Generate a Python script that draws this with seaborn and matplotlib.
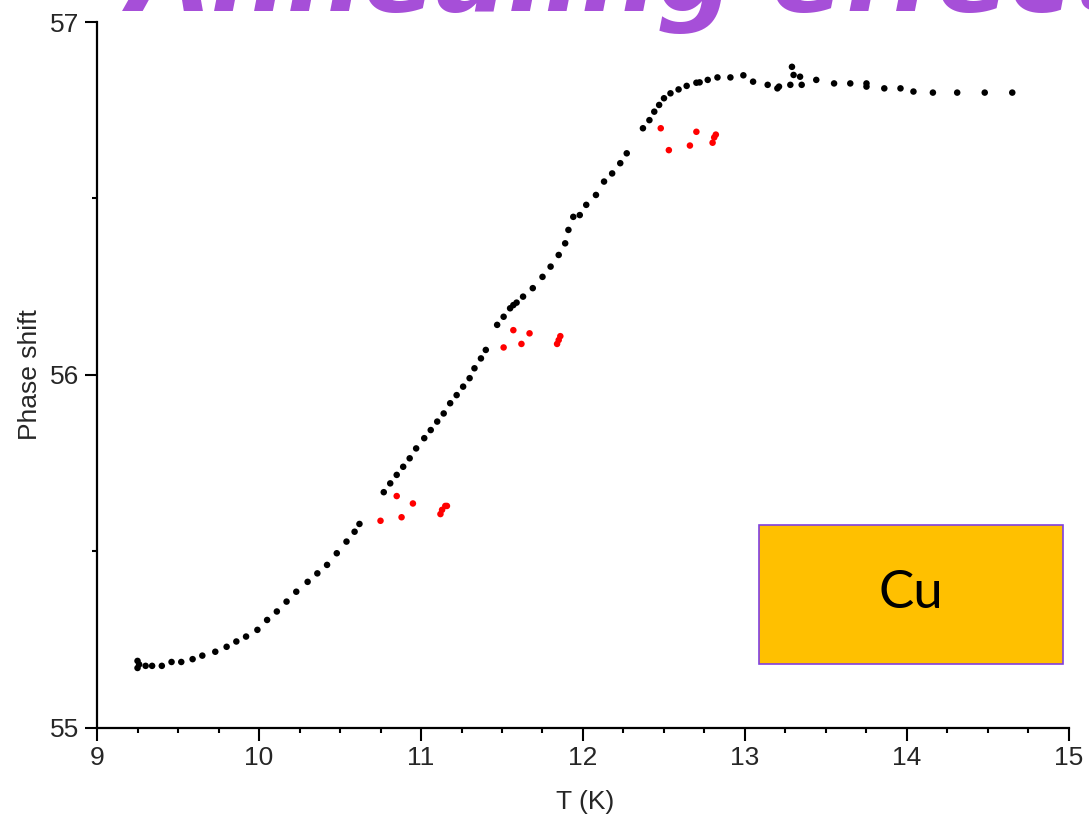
import matplotlib
matplotlib.use('Agg')
import matplotlib.pyplot as plt
import matplotlib.patches as mpatches
from matplotlib.ticker import MultipleLocator
import seaborn as sns
import pandas as pd

# Data (T in K, phase shift)
t_black = [9.25, 9.25, 9.26, 9.30, 9.34, 9.40, 9.46, 9.52, 9.59, 9.65, 9.73, 9.80, 9.86,
           9.92, 9.99, 10.05, 10.11, 10.17, 10.23, 10.30, 10.36, 10.42, 10.48, 10.54, 10.59,
           10.62,
           10.77, 10.81, 10.85, 10.89, 10.93, 10.97, 11.02, 11.06, 11.10, 11.14, 11.18, 11.22,
           11.26, 11.30, 11.33, 11.37, 11.40,
           11.47, 11.51, 11.55, 11.57, 11.59, 11.63, 11.69, 11.75, 11.80, 11.85, 11.89, 11.91,
           11.94, 11.98, 12.02, 12.08, 12.13, 12.18, 12.23, 12.27,
           12.37, 12.41, 12.44, 12.47, 12.50, 12.54, 12.59, 12.64, 12.70, 12.72, 12.77, 12.83,
           12.91, 12.99, 13.05, 13.14, 13.20, 13.21, 13.28, 13.29, 13.30, 13.34, 13.35, 13.44,
           13.55, 13.65, 13.75, 13.75, 13.86, 13.96, 14.04, 14.16, 14.31, 14.48, 14.65]
phase_black = [55.19, 55.17, 55.18, 55.176, 55.176, 55.176, 55.187, 55.187, 55.195, 55.205,
               55.216, 55.23, 55.245, 55.259, 55.278, 55.306, 55.33, 55.358, 55.386, 55.414,
               55.438, 55.462, 55.495, 55.528, 55.556, 55.578,
               55.668, 55.693, 55.717, 55.740, 55.764, 55.792, 55.821, 55.844, 55.868, 55.891,
               55.920, 55.943, 55.967, 55.991, 56.019, 56.047, 56.071,
               56.142, 56.165, 56.189, 56.198, 56.205, 56.222, 56.246, 56.278, 56.307, 56.340,
               56.373, 56.411, 56.448, 56.453, 56.482, 56.510, 56.548, 56.571, 56.600, 56.628,
               56.699, 56.722, 56.746, 56.765, 56.784, 56.798, 56.809, 56.819, 56.828, 56.829,
               56.836, 56.843, 56.843, 56.849, 56.831, 56.822, 56.812, 56.817, 56.822, 56.873,
               56.850, 56.845, 56.822, 56.836, 56.826, 56.826, 56.826, 56.817, 56.812, 56.812,
               56.803, 56.800, 56.800, 56.800, 56.800]

t_red = [10.75, 10.85, 10.88, 10.95, 11.12, 11.13, 11.15, 11.16,
         11.51, 11.57, 11.62, 11.67, 11.84, 11.85, 11.86,
         12.48, 12.53, 12.66, 12.70, 12.80, 12.81, 12.82]
phase_red = [55.587, 55.657, 55.597, 55.636, 55.606, 55.618, 55.629, 55.629,
             56.078, 56.127, 56.088, 56.118, 56.088, 56.099, 56.110,
             56.699, 56.637, 56.650, 56.689, 56.658, 56.673, 56.681]

df = pd.DataFrame({
    'T': t_black + t_red,
    'Phase': phase_black + phase_red,
    'run': ['main'] * len(t_black) + ['annealed'] * len(t_red),
})

sns.set_theme(style='ticks')
plt.rcParams['font.family'] = ['Liberation Sans', 'DejaVu Sans']

fig = plt.figure(figsize=(10.89, 8.21), dpi=100)
ax = fig.add_axes([0.0891, 0.1133, 0.8925, 0.8599])

sns.scatterplot(data=df, x='T', y='Phase', hue='run',
                palette={'main': 'black', 'annealed': 'red'},
                s=22, linewidth=0, legend=False, ax=ax)

ax.set_xlim(9, 15)
ax.set_ylim(55, 57)
ax.xaxis.set_major_locator(MultipleLocator(1))
ax.xaxis.set_minor_locator(MultipleLocator(0.25))
ax.yaxis.set_major_locator(MultipleLocator(1))
ax.yaxis.set_minor_locator(MultipleLocator(0.5))
ax.tick_params(which='major', length=9, width=1.5, labelsize=19, pad=4, color='black')
ax.tick_params(which='minor', length=3.5, width=1.5, color='black')

for side in ['top', 'right']:
    ax.spines[side].set_visible(False)
for side in ['left', 'bottom']:
    ax.spines[side].set_linewidth(1.6)
    ax.spines[side].set_color('black')

ax.set_xlabel('T (K)', fontsize=19)
ax.set_ylabel('Phase shift', fontsize=19)
ax.xaxis.set_label_coords(0.502, -0.088)
ax.yaxis.set_label_coords(-0.057, 0.5)

# Slide title, partly cut off at the top
fig.text(0.118, 0.986, 'Annealing effect', color='#A64FD8', fontsize=77,
         family='DejaVu Sans', weight='bold', style='italic', ha='left', va='baseline')

# Orange "Cu" label box
box = mpatches.Rectangle((0.697, 0.191), 0.279, 0.169, transform=fig.transFigure,
                         facecolor='#FFC000', edgecolor='#8040E0', linewidth=1.2)
fig.patches.append(box)
fig.text(0.836, 0.277, 'Cu', fontsize=38, family='Lato', weight='normal',
         ha='center', va='center', color='black')

fig.savefig('out.png', dpi=100)
